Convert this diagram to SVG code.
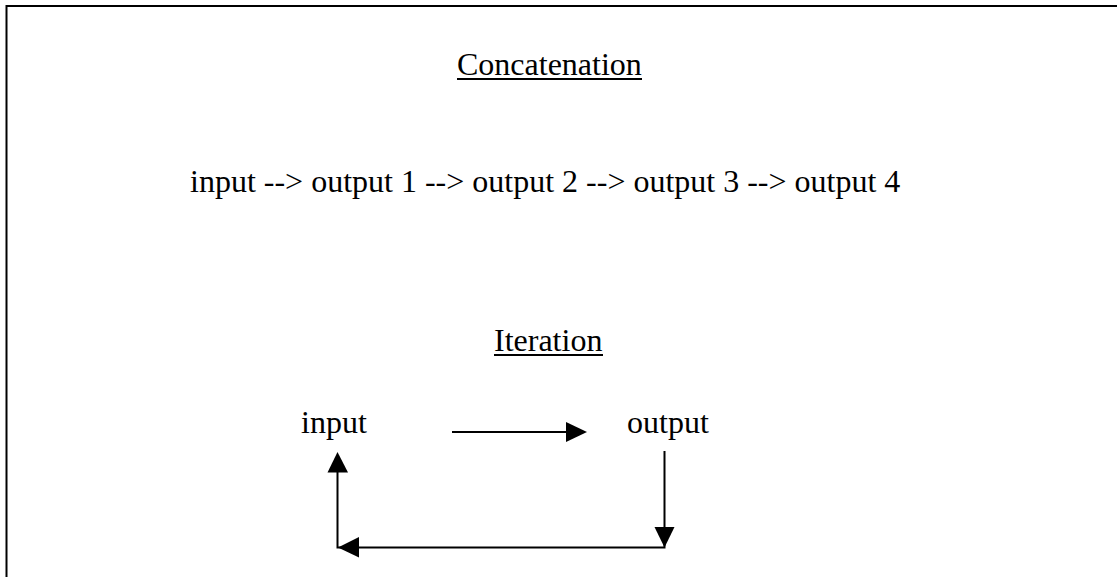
<svg xmlns="http://www.w3.org/2000/svg" width="1117" height="577" viewBox="0 0 1117 577">
  <style>
    .t { font-family: "Liberation Serif", "Times New Roman", serif; font-size: 32px; fill: #000; }
    .frame { stroke: #000; stroke-width: 2; fill: none; }
    .edge { stroke: #000; stroke-width: 2; fill: none; }
    .head { fill: #000; stroke: none; }
    .rule { fill: #000; }
  </style>
  <rect width="1117" height="577" fill="#fff"/>
  <!-- page frame: top and left rules -->
  <path class="frame" d="M6.5,577 V6 H1117"/>

  <g id="concatenation-title">
    <text class="t" x="457" y="75">Concatenation</text>
    <rect class="rule" x="457" y="78" width="185" height="2"/>
  </g>
  <g id="concatenation-chain">
    <text class="t" x="190" y="192">input --&gt; output 1 --&gt; output 2 --&gt; output 3 --&gt; output 4</text>
  </g>

  <g id="iteration-title">
    <text class="t" x="494" y="351">Iteration</text>
    <rect class="rule" x="494" y="354" width="109" height="2"/>
  </g>
  <g id="node-input">
    <text class="t" x="301" y="433">input</text>
  </g>
  <g id="node-output">
    <text class="t" x="627" y="433">output</text>
  </g>

  <g id="connectors">
    <!-- input to output -->
    <line class="edge" x1="452" y1="432" x2="568" y2="432"/>
    <polygon class="head" points="566,422 587,432 566,442"/>
    <!-- feedback loop: output down, across, back up to input -->
    <polyline class="edge" points="664.5,451 664.5,547.5 337.5,547.5 337.5,471"/>
    <polygon class="head" points="654.5,527 674.5,527 664.5,547.5"/>
    <polygon class="head" points="359,537 359,557.5 338,547.5"/>
    <polygon class="head" points="327.5,472.5 348,472.5 337.5,452"/>
  </g>
</svg>
